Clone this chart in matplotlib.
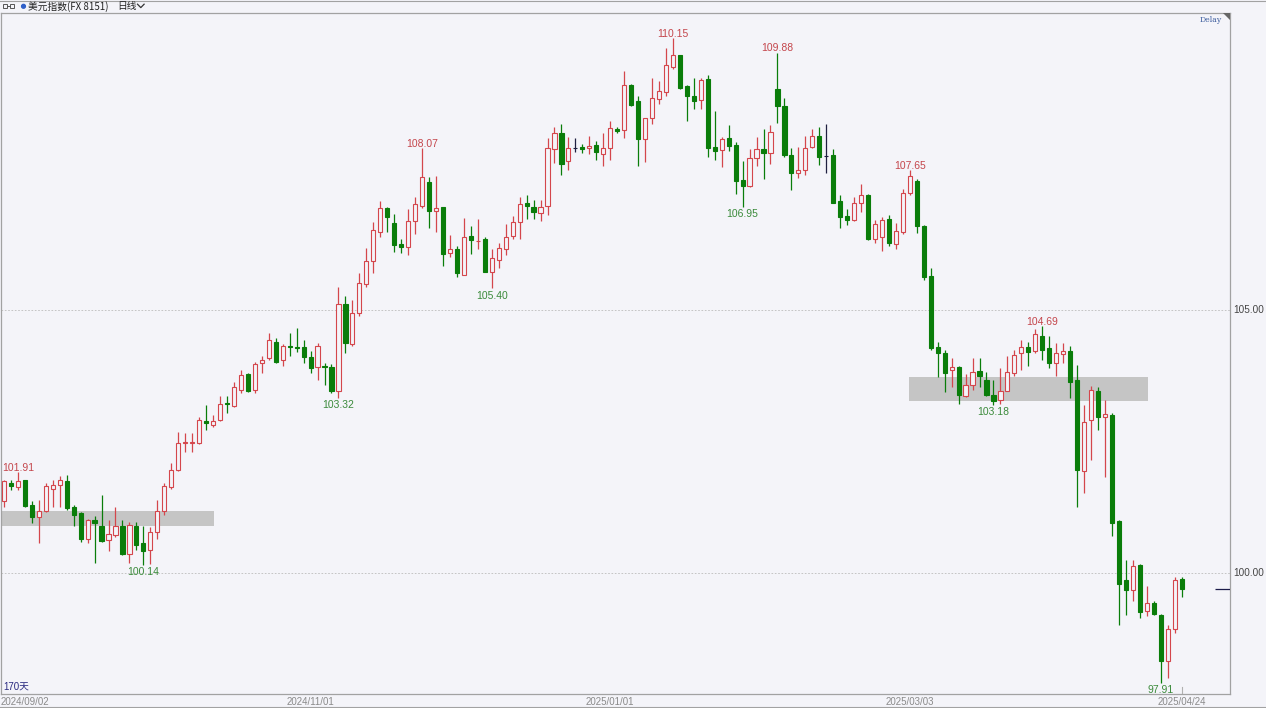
import matplotlib
matplotlib.use("Agg")
import matplotlib.pyplot as plt
from matplotlib.patches import Rectangle, Polygon, Circle
from matplotlib.transforms import blended_transform_factory
import numpy as np

# ---- instrument / labels ----
title = "美元指数(FX 8151)"
period = "日线"
span_label = "170天"
delay_label = "Delay"

date_ticks = [0, 44, 87, 130, 169]
date_labels = ["2024/09/02", "2024/11/01", "2025/01/01", "2025/03/03", "2025/04/24"]
price_ticks = [105.0, 100.0]

# ---- daily OHLC ----
opens = [101.37, 101.71, 101.62, 101.76, 101.29, 101.05, 101.18, 101.60, 101.67, 101.75,
         101.24, 101.13, 100.65, 101.00, 100.89, 100.62, 100.72, 100.89, 100.35, 100.89,
         100.56, 100.43, 100.78, 101.18, 101.62, 101.96, 102.46, 102.47, 102.47, 102.88,
         102.81, 102.91, 103.22, 103.17, 103.48, 103.78, 103.48, 103.98, 104.07, 104.39,
         104.04, 104.30, 104.29, 104.28, 104.09, 103.90, 103.93, 103.90, 103.46, 105.10,
         104.35, 104.93, 105.48, 105.92, 106.48, 106.92, 106.64, 106.25, 106.19, 106.69,
         106.97, 107.43, 106.88, 106.94, 106.07, 106.14, 105.66, 106.40, 106.30, 106.33,
         105.72, 105.94, 106.14, 106.40, 106.67, 107.03, 106.94, 106.84, 106.97, 108.04,
         108.36, 107.82, 108.06, 108.09, 108.06, 108.12, 107.96, 108.07, 108.43, 108.41,
         109.27, 108.96, 108.23, 108.63, 109.00, 109.13, 109.61, 109.83, 109.25, 109.06,
         108.98, 109.37, 108.09, 108.03, 108.25, 108.12, 107.46, 107.35, 107.87, 108.04,
         107.98, 109.18, 108.87, 107.94, 107.59, 107.65, 108.08, 108.30, 107.92, 107.94,
         107.07, 106.78, 106.70, 107.02, 107.18, 106.33, 106.38, 106.71, 106.25, 106.48,
         107.22, 107.45, 106.59, 105.64, 104.29, 104.17, 103.85, 103.91, 103.36, 103.57,
         103.84, 103.67, 103.38, 103.28, 103.46, 103.80, 104.18, 104.29, 104.22, 104.50,
         104.26, 103.99, 104.16, 104.22, 103.66, 101.94, 102.91, 103.46, 102.95, 103.00,
         100.98, 99.86, 99.68, 100.15, 99.28, 99.43, 99.20, 98.33, 98.94, 99.89]
highs = [101.77, 101.77, 101.91, 101.77, 101.36, 101.39, 101.71, 101.77, 101.84, 101.86,
         101.28, 101.16, 101.03, 101.08, 101.48, 101.01, 101.24, 101.01, 100.97, 100.97,
         100.89, 100.86, 101.39, 101.71, 102.09, 102.68, 102.65, 102.65, 102.96, 103.19,
         102.99, 103.36, 103.35, 103.63, 103.86, 103.80, 104.01, 104.12, 104.56, 104.45,
         104.35, 104.56, 104.64, 104.43, 104.22, 104.36, 103.98, 103.97, 105.43, 105.26,
         105.19, 105.69, 106.16, 106.67, 107.07, 106.94, 106.82, 106.33, 106.90, 107.13,
         108.07, 107.51, 107.54, 106.95, 106.42, 106.21, 106.73, 106.59, 106.71, 106.38,
         106.14, 106.27, 106.62, 106.78, 107.13, 107.18, 107.08, 107.08, 108.25, 108.46,
         108.53, 108.28, 108.25, 108.15, 108.30, 108.20, 108.36, 108.58, 108.47, 109.53,
         109.29, 109.06, 108.63, 109.39, 109.34, 109.96, 110.15, 109.84, 109.26, 109.40,
         109.39, 109.45, 108.77, 108.28, 108.51, 108.18, 107.83, 108.04, 108.28, 108.42,
         108.51, 109.88, 109.01, 108.06, 108.09, 108.30, 108.42, 108.46, 108.52, 108.04,
         107.18, 106.90, 107.13, 107.39, 107.20, 106.70, 106.76, 106.80, 106.65, 107.28,
         107.65, 107.47, 106.61, 105.78, 104.39, 104.23, 104.07, 103.93, 103.78, 104.07,
         104.07, 103.82, 103.67, 103.88, 104.12, 104.23, 104.43, 104.39, 104.63, 104.69,
         104.50, 104.37, 104.37, 104.31, 103.95, 103.19, 103.55, 103.53, 103.28, 103.03,
         101.00, 100.25, 100.25, 100.17, 99.75, 99.47, 99.22, 99.01, 99.92, 99.91]
lows = [101.25, 101.57, 101.57, 101.24, 100.95, 100.56, 101.16, 101.25, 101.25, 101.20,
        100.89, 100.59, 100.56, 100.19, 100.59, 100.41, 100.68, 100.34, 100.18, 100.44,
        100.14, 100.17, 100.65, 101.10, 101.60, 101.94, 102.30, 102.30, 102.45, 102.71,
        102.77, 102.89, 103.03, 103.15, 103.42, 103.44, 103.42, 103.80, 104.05, 103.99,
        103.93, 104.12, 104.20, 103.98, 103.80, 103.67, 103.57, 103.41, 103.32, 104.18,
        104.31, 104.88, 105.43, 105.69, 106.37, 106.48, 106.10, 106.08, 106.04, 106.43,
        106.92, 106.54, 106.48, 105.83, 106.00, 105.61, 105.66, 106.05, 106.14, 105.72,
        105.40, 105.78, 106.04, 106.33, 106.33, 106.71, 106.71, 106.69, 106.80, 107.79,
        107.56, 107.65, 108.00, 107.98, 107.96, 107.84, 107.73, 107.84, 108.36, 108.26,
        108.87, 107.73, 107.80, 108.53, 108.91, 109.06, 109.56, 109.18, 108.58, 108.80,
        108.80, 107.90, 107.84, 107.71, 108.01, 107.20, 106.95, 107.32, 107.73, 107.47,
        107.76, 108.55, 107.90, 107.27, 107.49, 107.56, 108.06, 107.75, 107.59, 107.02,
        106.54, 106.61, 106.69, 106.86, 106.32, 106.27, 106.12, 106.21, 106.14, 106.44,
        107.18, 106.45, 105.56, 104.24, 103.72, 103.44, 103.52, 103.21, 103.33, 103.48,
        103.53, 103.35, 103.18, 103.21, 103.46, 103.73, 103.85, 103.93, 104.17, 104.05,
        103.88, 103.74, 103.98, 103.31, 101.25, 101.52, 102.15, 102.72, 101.82, 100.70,
        99.01, 99.20, 99.47, 99.15, 99.18, 99.20, 97.91, 98.01, 98.85, 99.53]
closes = [101.74, 101.65, 101.75, 101.27, 101.06, 101.18, 101.65, 101.67, 101.76, 101.23,
          101.10, 100.65, 101.01, 100.94, 100.61, 100.73, 100.89, 100.35, 100.91, 100.53,
          100.41, 100.78, 101.18, 101.65, 101.96, 102.47, 102.48, 102.49, 102.90, 102.85,
          102.89, 103.21, 103.20, 103.52, 103.76, 103.46, 103.97, 104.05, 104.43, 104.01,
          104.31, 104.28, 104.26, 104.10, 103.88, 104.31, 103.90, 103.46, 105.10, 104.36,
          104.94, 105.50, 105.92, 106.51, 106.92, 106.75, 106.23, 106.18, 106.69, 107.00,
          107.51, 106.88, 106.92, 106.05, 106.14, 105.70, 106.37, 106.32, 106.31, 105.72,
          105.97, 106.16, 106.38, 106.67, 107.00, 106.97, 106.86, 106.95, 108.06, 108.35,
          107.77, 108.07, 108.06, 108.05, 108.10, 107.99, 108.06, 108.45, 108.40, 109.27,
          108.89, 108.23, 108.63, 109.02, 109.15, 109.65, 109.83, 109.21, 109.06, 108.96,
          109.36, 108.07, 108.01, 108.23, 108.11, 107.44, 107.35, 107.87, 108.04, 107.98,
          108.38, 108.87, 107.94, 107.60, 107.65, 108.06, 108.30, 107.90, 107.92, 107.03,
          106.76, 106.70, 107.03, 107.18, 106.33, 106.63, 106.70, 106.26, 106.50, 107.22,
          107.54, 106.59, 105.62, 104.26, 104.18, 103.80, 103.90, 103.38, 103.57, 103.82,
          103.74, 103.38, 103.27, 103.46, 103.82, 104.14, 104.29, 104.20, 104.54, 104.24,
          103.98, 104.18, 104.22, 103.63, 101.96, 102.87, 103.48, 102.96, 103.01, 100.94,
          99.79, 99.68, 100.13, 99.26, 99.43, 99.22, 98.33, 98.94, 99.87, 99.70]

# swing highs / lows that carry a price label
peak_idx = [2, 60, 96, 111, 130, 149]
trough_idx = [20, 48, 70, 106, 142, 166]

# ---- style ----
BG = "#f4f4f9"
UP = "#d4464c"
DOWN = "#0a7d0a"
FLAT = "#1f1f40"
UP_TXT = "#c4454b"
DOWN_TXT = "#3a8a3a"
ZONE = "#c5c5c5"
FRAME = "#a2a2a2"

W, H = 1266, 708
fig = plt.figure(figsize=(W / 100, H / 100), dpi=100, facecolor=BG)

# plot area in pixels
px_left, px_right, px_top, px_bottom = 1, 1230, 13, 694
ax = fig.add_axes([px_left / W, (H - px_bottom) / H,
                   (px_right - px_left) / W, (px_bottom - px_top) / H])
ax.set_facecolor(BG)

step = 6.968      # pixels per session
x0_px = 4.0       # pixel centre of the first session
ax.set_xlim((px_left - x0_px) / step, (px_right - x0_px) / step)
ax.set_ylim(97.697, 110.632)

o = np.array(opens); h = np.array(highs); l = np.array(lows); c = np.array(closes)
n = len(o)
x = np.arange(n)
up = c > o
down = c < o

edge = np.where(up, UP, np.where(down, DOWN, FLAT))
face = np.where(up, BG, np.where(down, DOWN, FLAT))

# support / resistance zones
zones = [(-0.6, 30.1, 100.89, 101.17), (129.9, 164.2, 103.27, 103.72)]
for xa, xb, ya, yb in zones:
    ax.add_patch(Rectangle((xa, ya), xb - xa, yb - ya, facecolor=ZONE,
                           edgecolor="none", zorder=1))

# grid lines
for p in price_ticks:
    ax.axhline(p, color="#bcbcbc", linestyle=(0, (2, 2)), linewidth=0.6, zorder=0.5)

# candles
ax.vlines(x, l, h, colors=edge, linewidth=0.9, zorder=2)
ax.bar(x, np.abs(c - o), bottom=np.minimum(o, c), width=0.6,
       color=face, edgecolor=edge, linewidth=0.8, zorder=3)

num_font = ["Liberation Sans", "Noto Sans CJK SC"]
for i in peak_idx:
    ax.annotate(f"{highs[i]:.2f}", (i, highs[i]), xytext=(0, -0.6),
                textcoords="offset points", ha="center", va="bottom",
                color=UP_TXT, fontsize=7.5, family=num_font, zorder=5)
for i in trough_idx:
    ax.annotate(f"{lows[i]:.2f}", (i, lows[i]), xytext=(0, -1.5),
                textcoords="offset points", ha="center", va="top",
                color=DOWN_TXT, fontsize=7.5, family=num_font, zorder=5)

# last price marker outside the candles
ax.hlines(closes[-1], (1215 - x0_px) / step, (px_right - x0_px) / step,
          colors="#1c1c4a", linewidth=0.9, zorder=4)

# frame
for s in ax.spines.values():
    s.set_color(FRAME)
    s.set_linewidth(0.9)
ax.set_xticks([])
ax.set_yticks([])

# right price scale
ytr = blended_transform_factory(ax.transAxes, ax.transData)
for p in price_ticks:
    ax.text(1.0 + 3 / (px_right - px_left), p, f"{p:.2f}", transform=ytr,
            ha="left", va="center", fontsize=7.2, color="#444444",
            family=num_font, clip_on=False)

# date axis
xtr = blended_transform_factory(ax.transData, ax.transAxes)
ylab = -(702 - px_bottom) / (px_bottom - px_top)
for k, (idx, lab) in enumerate(zip(date_ticks, date_labels)):
    if k == 0:
        ax.text(0.0, ylab, lab, transform=ax.transAxes, ha="left", va="center",
                fontsize=7, color="#8a8a8a", family=num_font, clip_on=False)
    else:
        ax.text(idx, ylab, lab, transform=xtr, ha="center", va="center",
                fontsize=7, color="#8a8a8a", family=num_font, clip_on=False)
ax.plot([date_ticks[-1], date_ticks[-1]], [0, 7 / (px_bottom - px_top)],
        transform=xtr, color="#b0b0b0", linewidth=0.8, zorder=4)

ax.text(0.0015, (px_bottom - 687) / (px_bottom - px_top), span_label,
        transform=ax.transAxes, ha="left", va="center", fontsize=7,
        color="#2a2a80", family=num_font)

# ---- header strip & corner marks (pixel coordinates) ----
ov = fig.add_axes([0, 0, 1, 1], facecolor="none")
ov.set_xlim(0, W)
ov.set_ylim(H, 0)
ov.axis("off")
ov.plot([0, W], [0.5, 0.5], color=FRAME, linewidth=0.8)
ov.plot([0, W], [H - 0.8, H - 0.8], color=FRAME, linewidth=0.8)
ov.add_patch(Rectangle((2.5, 4), 4, 4, facecolor="none", edgecolor="#555555", linewidth=0.7))
ov.add_patch(Rectangle((9.5, 4), 4, 4, facecolor="none", edgecolor="#555555", linewidth=0.7))
ov.plot([6.5, 9.5], [6, 6], color="#555555", linewidth=0.7)
ov.add_patch(Circle((23.5, 6.3), 1.9, color="#2f5fc9"))
ov.text(27.5, 6.5, title, ha="left", va="center", fontsize=7.0, color="#222222",
        family=["Noto Sans CJK SC", "DejaVu Sans"])
ov.text(117, 6.5, period, ha="left", va="center", fontsize=7.0, color="#222222",
        family=["Noto Sans CJK SC", "DejaVu Sans"])
ov.plot([137.5, 140.8, 144.1], [4.2, 7.6, 4.2], color="#333333", linewidth=0.9)

ov.text(1222, 20, delay_label, ha="right", va="center", fontsize=5.6,
        color="#3f5f9f", family="DejaVu Serif")
ov.add_patch(Polygon([(1223, 13), (1230, 13), (1230, 20)], closed=True,
                     facecolor="#666666", edgecolor="none"))

fig.savefig("out.png", dpi=100, facecolor=BG)
